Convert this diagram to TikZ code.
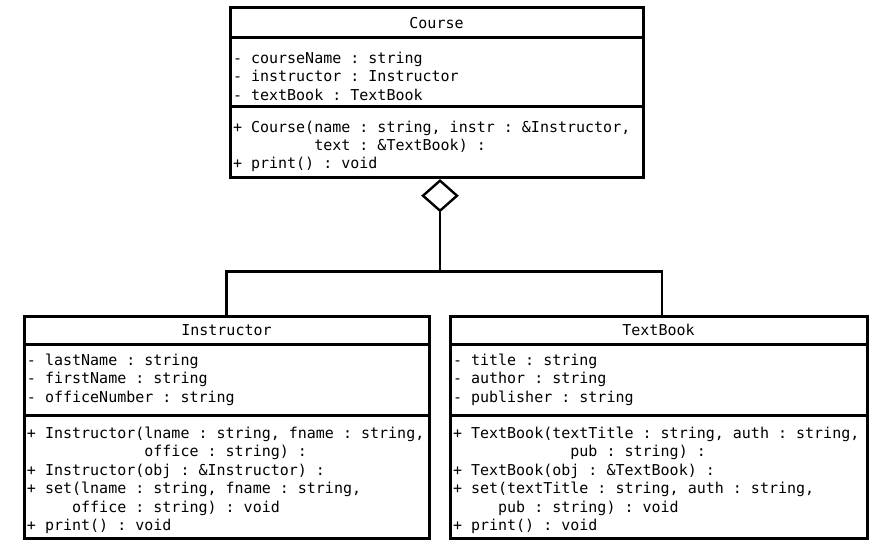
\documentclass[tikz,border=0pt]{standalone}
\usepackage{fontspec}
\newfontfamily\umlfont{DejaVu Sans Mono}
\usetikzlibrary{positioning,shapes.geometric}
\newcommand{\ind}[1]{\hspace*{#1\fontcharwd\font`x}}
\newcommand{\pushdown}{\rule{0pt}{19pt}}
\newcommand{\classfont}{\umlfont\fontsize{15}{18.4}\selectfont\frenchspacing}

\tikzset{
  classpart/.style={draw, line width=3pt, outer sep=0pt, inner xsep=3pt, inner ysep=0pt,
    align=flush left, font=\classfont},
  classname/.style={classpart, align=flush center},
  link/.style={line width=2.4pt},
}

\begin{document}
\begin{tikzpicture}[x=1pt,y=-1pt]
  \useasboundingbox (0,0) rectangle (885,545);

  % Drawing class Course
  \node[classname, text width=407pt, minimum height=30pt, anchor=north west] (course-name) at (230,8) {Course};
  \node[classpart, text width=407pt, minimum height=69pt, below=0pt of course-name] (course-attr)
    {\pushdown- courseName : string\\- instructor : Instructor\\- textBook : TextBook};
  \node[classpart, text width=407pt, minimum height=71pt, below=0pt of course-attr] (course-ops)
    {\pushdown+ Course(name : string, instr : \&Instructor,\\\ind{9}text : \&TextBook) :\\+ print() : void};

  % Drawing class Instructor
  \node[classname, text width=399pt, minimum height=28pt, anchor=north west] (inst-name) at (24,316) {Instructor};
  \node[classpart, text width=399pt, minimum height=71pt, below=0pt of inst-name] (inst-attr)
    {- lastName : string\\- firstName : string\\- officeNumber : string};
  \node[classpart, text width=399pt, minimum height=123pt, below=0pt of inst-attr] (inst-ops)
    {\pushdown+ Instructor(lname : string, fname : string,\\\ind{13}office : string) :\\%
     + Instructor(obj : \&Instructor) :\\+ set(lname : string, fname : string,\\%
     \ind{5}office : string) : void\\+ print() : void};

  % Drawing class TextBook
  \node[classname, text width=411pt, minimum height=28pt, anchor=north west] (book-name) at (450,316) {TextBook};
  \node[classpart, text width=411pt, minimum height=71pt, below=0pt of book-name] (book-attr)
    {- title : string\\- author : string\\- publisher : string};
  \node[classpart, text width=411pt, minimum height=123pt, below=0pt of book-attr] (book-ops)
    {\pushdown+ TextBook(textTitle : string, auth : string,\\\ind{13}pub : string) :\\%
     + TextBook(obj : \&TextBook) :\\+ set(textTitle : string, auth : string,\\%
     \ind{5}pub : string) : void\\+ print() : void};

  % Marking aggregation diamond
  \node[diamond, draw, line width=2.4pt, inner sep=0pt, minimum width=35pt, minimum height=31pt,
    below=1pt of course-ops, xshift=3.5pt] (agg) {};
  \coordinate[below=59pt of agg.south] (fork);

  % Drawing lines to the parts
  \draw[link] (agg.south) -- (fork);
  \draw[link] (inst-name.north) |- (fork) -| ([xshift=3.5pt]book-name.north);
\end{tikzpicture}
\end{document}
